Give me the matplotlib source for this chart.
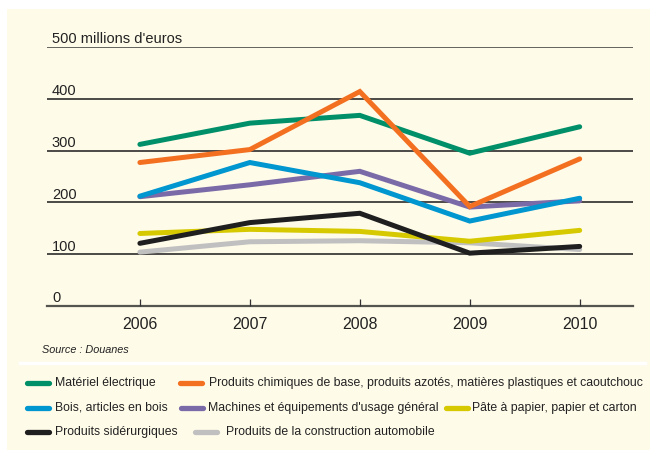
import matplotlib.pyplot as plt
from matplotlib.lines import Line2D
from matplotlib.patches import Rectangle

plt.rcParams['font.family'] = ['Liberation Sans', 'DejaVu Sans']

years = [2006, 2007, 2008, 2009, 2010]

materiel_electrique = [312, 353, 368, 295, 346]
produits_chimiques = [277, 302, 414, 192, 284]
bois = [212, 277, 238, 164, 208]
machines = [211, 234, 260, 191, 203]
pate_papier = [140, 148, 144, 125, 146]
siderurgie = [121, 161, 179, 102, 115]
automobile = [104, 124, 126, 122, 109]

yticks = [0, 100, 200, 300, 400, 500]
ytick_labels = ['0', '100', '200', '300', '400', "500 millions d'euros"]

series = [
    ("Produits de la construction automobile", automobile, "#c0c0c0", 1),
    ("Pâte à papier, papier et carton", pate_papier, "#d6c900", 2),
    ("Produits sidérurgiques", siderurgie, "#1f1f1f", 3),
    ("Machines et équipements d'usage général", machines, "#7b6aa8", 4),
    ("Bois, articles en bois", bois, "#0096cf", 5),
    ("Matériel électrique", materiel_electrique, "#009069", 6),
    ("Produits chimiques de base, produits azotés, matières plastiques et caoutchouc",
     produits_chimiques, "#f37021", 7),
]
colors = {name: c for name, _, c, _ in series}

cream = "#fefbe9"
fig = plt.figure(figsize=(6.5, 4.5), dpi=100)
fig.patch.set_facecolor("white")
# cream panel
fig.add_artist(Rectangle((7 / 650, 0), 1 - 7 / 650, 1 - 9 / 450,
                         transform=fig.transFigure, facecolor=cream,
                         edgecolor="none", zorder=0))
# white separator above legend
fig.add_artist(Line2D([20 / 650, 645 / 650], [1 - 363 / 450] * 2,
                      transform=fig.transFigure, color="white", lw=2.5, zorder=1))

ax = fig.add_axes([47 / 650, 1 - 306 / 450, 586 / 650, 259 / 450])
ax.set_facecolor("none")
ax.set_xlim(2005.155, 2010.485)
ax.set_ylim(0, 500)

for v in yticks[1:]:
    ax.axhline(v, color="#1a1a1a" if v < 500 else "#3a3a3a", lw=1.1, zorder=0.5)
ax.axhline(0, color="#555550", lw=1.6, zorder=0.5, clip_on=False)

for name, vals, c, z in series:
    ax.plot(years, vals, color=c, lw=3.6, solid_capstyle="round",
            solid_joinstyle="miter", zorder=z + 1)

for v, lab in zip(yticks, ytick_labels):
    ax.text(2005.2, v + 7, lab, fontsize=10.5, color="#222222",
            ha="left", va="baseline")

for s in ax.spines.values():
    s.set_visible(False)
ax.set_yticks([])
ax.set_xticks(years)
ax.set_xticklabels([str(y) for y in years], fontsize=11.5, color="#222222")
ax.tick_params(axis="x", direction="in", length=5, width=0.9,
               color="#333333", pad=8)

fig.text(42 / 650, 1 - 350 / 450, "Source : Douanes", fontsize=7.8,
         style="italic", color="#222222", va="center")

# legend, laid out as in the reference: (name, handle x, text x, row y)
legend_items = [
    ("Matériel électrique", 27, 55, 383),
    ("Produits chimiques de base, produits azotés, matières plastiques et caoutchouc", 180, 209, 383),
    ("Bois, articles en bois", 27, 55, 408),
    ("Machines et équipements d'usage général", 181, 208, 408),
    ("Pâte à papier, papier et carton", 446, 472, 408),
    ("Produits sidérurgiques", 27, 55, 432),
    ("Produits de la construction automobile", 195, 226, 432),
]
for name, hx, tx, py in legend_items:
    yf = 1 - py / 450
    fig.add_artist(Line2D([hx / 650, (hx + 22) / 650], [yf, yf],
                          transform=fig.transFigure, color=colors[name],
                          lw=3.8, solid_capstyle="round"))
    fig.text(tx / 650, yf, name, fontsize=8.8, color="#222222",
             va="center", ha="left")

fig.savefig("out.png", dpi=100, facecolor=fig.get_facecolor())
